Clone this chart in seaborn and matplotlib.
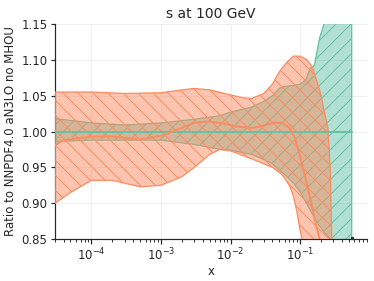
import matplotlib
matplotlib.use('Agg')
import matplotlib.pyplot as plt
import pandas as pd
import seaborn as sns

# Reference: NNPDF4.0 aN3LO no MHOU (green band, ratio to itself)
ref_x = [3e-5, 1e-4, 3e-4, 1e-3, 3e-3, 7e-3, 1e-2, 2e-2, 3e-2, 4e-2, 5e-2, 6e-2,
         8e-2, 0.1, 0.12, 0.14, 0.16, 0.19, 0.22, 0.27, 0.3, 0.4, 0.55]
ref_up = [1.018, 1.012, 1.009, 1.012, 1.017, 1.022, 1.027, 1.034, 1.042, 1.050, 1.060, 1.063,
          1.064, 1.066, 1.072, 1.088, 1.092, 1.130, 1.150, 1.25, 1.30, 1.40, 1.50]
ref_lo = [0.986, 0.988, 0.988, 0.988, 0.982, 0.975, 0.974, 0.968, 0.961, 0.955, 0.946, 0.940,
          0.928, 0.916, 0.902, 0.890, 0.880, 0.868, 0.860, 0.850, 0.80, 0.65, 0.50]
ref_cv = [1.0] * len(ref_x)

# Comparison set (orange band + central value)
cmp_up_x = [3e-5, 1e-4, 3e-4, 1e-3, 2e-3, 3e-3, 5e-3, 1e-2, 1.5e-2, 2e-2, 3e-2, 4e-2, 5e-2,
            6.5e-2, 8e-2, 0.1, 0.125, 0.15, 0.18, 0.2, 0.22, 0.25, 0.27, 0.285, 0.3]
cmp_up = [1.055, 1.055, 1.053, 1.054, 1.058, 1.060, 1.058, 1.051, 1.047, 1.046, 1.053, 1.066, 1.083,
          1.097, 1.105, 1.105, 1.100, 1.090, 1.065, 1.050, 1.030, 1.005, 0.950, 0.850, 0.750]
cmp_lo_x = [3e-5, 5e-5, 1e-4, 2e-4, 5e-4, 1e-3, 2e-3, 3e-3, 5e-3, 7e-3, 1e-2, 2e-2, 3e-2, 4e-2,
            5.5e-2, 7e-2, 8e-2, 9e-2, 0.1, 0.11, 0.13, 0.2, 0.3]
cmp_lo = [0.900, 0.915, 0.932, 0.932, 0.923, 0.925, 0.937, 0.950, 0.968, 0.975, 0.973, 0.962, 0.955,
          0.950, 0.940, 0.925, 0.910, 0.888, 0.862, 0.845, 0.800, 0.60, 0.40]
cmp_cv_x = [3e-5, 4e-5, 1e-4, 2e-4, 5e-4, 1e-3, 2e-3, 3e-3, 5e-3, 8e-3, 1.2e-2, 2e-2, 3e-2, 4e-2,
            5.5e-2, 7e-2, 8.5e-2, 0.1, 0.13, 0.16, 0.19, 0.22]
cmp_cv = [0.981, 0.988, 0.993, 0.993, 0.989, 0.994, 1.005, 1.012, 1.014, 1.011, 1.007, 1.005, 1.008,
          1.012, 1.012, 1.005, 0.990, 0.965, 0.920, 0.880, 0.850, 0.800]

# small dark marker sitting on the bottom axis
mark_x = [0.55]
mark_y = [0.851]

GREEN = '#66c2a5'
ORANGE = '#fc8d62'

DPI = 90
PT = 72 / DPI  # pixels -> points

sns.set_style('ticks', {'axes.grid': True, 'grid.color': '#efefef'})
plt.rcParams['font.family'] = ['DejaVu Sans']
plt.rcParams['hatch.linewidth'] = 1.0 * PT
plt.rcParams['grid.linewidth'] = 1.0 * PT
plt.rcParams['axes.linewidth'] = 1.2 * PT
plt.rcParams['xtick.major.width'] = 1.2 * PT
plt.rcParams['ytick.major.width'] = 1.2 * PT
plt.rcParams['xtick.minor.width'] = 0.9 * PT
plt.rcParams['xtick.major.size'] = 4.5 * PT
plt.rcParams['ytick.major.size'] = 4.5 * PT
plt.rcParams['xtick.minor.size'] = 2.5 * PT

fig, ax = plt.subplots(figsize=(374 / DPI, 281 / DPI), dpi=DPI)
fig.subplots_adjust(left=0.147, right=0.981, bottom=0.149, top=0.915)

# green band (closed polygon: upper edge then lower edge reversed)
ax.fill(ref_x + ref_x[::-1], ref_up + ref_lo[::-1], facecolor=(0.4, 0.76, 0.65, 0.5),
        edgecolor=GREEN, hatch='//', linewidth=1.3 * PT, zorder=2)

# orange band
ax.fill(cmp_up_x + cmp_lo_x[::-1], cmp_up + cmp_lo[::-1], facecolor=(0.99, 0.55, 0.38, 0.5),
        edgecolor=ORANGE, hatch='\\\\', linewidth=1.3 * PT, zorder=4)

# central values
ref_df = pd.DataFrame({'x': ref_x, 'y': ref_cv})
sns.lineplot(data=ref_df, x='x', y='y', color=GREEN, lw=2.0 * PT, ax=ax, zorder=5)
cv_df = pd.DataFrame({'x': cmp_cv_x, 'y': cmp_cv})
sns.lineplot(data=cv_df, x='x', y='y', color=ORANGE, lw=2.0 * PT, ax=ax, zorder=6)

ax.plot(mark_x, mark_y, marker='s', ms=2.5 * PT, color='#333333', ls='none', zorder=7, clip_on=False)

ax.set_xscale('log')
ax.set_xlim(3e-5, 0.91)
ax.set_ylim(0.85, 1.15)
ax.set_yticks([0.85, 0.90, 0.95, 1.00, 1.05, 1.10, 1.15])
ax.set_title('s at 100 GeV', fontsize=13.9 * PT, pad=6 * PT)
ax.set_xlabel('x', fontsize=11.8 * PT, labelpad=2 * PT)
ax.set_ylabel('Ratio to NNPDF4.0 aN3LO no MHOU', fontsize=11.8 * PT, labelpad=4 * PT)
ax.tick_params(labelsize=11.8 * PT, pad=3 * PT)
sns.despine(ax=ax)

fig.savefig('out.png', dpi=DPI)
